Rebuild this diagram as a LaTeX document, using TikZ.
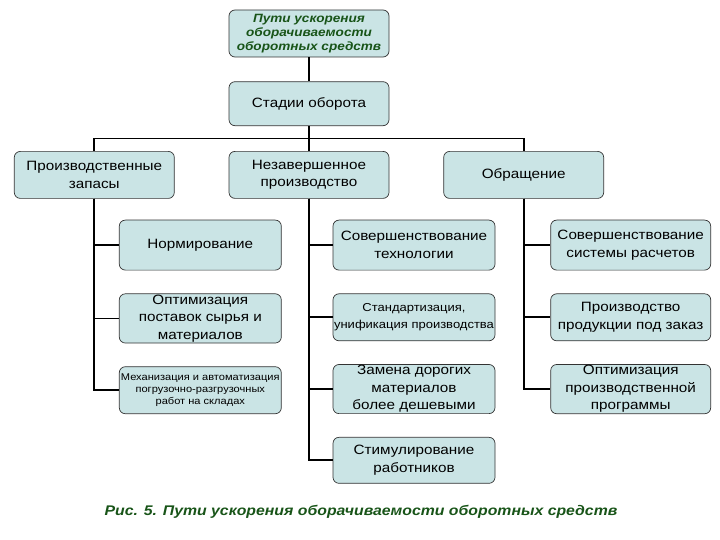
\documentclass[tikz,border=0pt]{standalone}
\usepackage{fontspec}
\setmainfont[FakeStretch=1.13]{Liberation Sans}
\usepackage{tikz}
\usetikzlibrary{positioning, calc}
\definecolor{boxfill}{RGB}{202,228,229}
\definecolor{darkgreen}{RGB}{24,84,24}

\begin{document}
\begin{tikzpicture}[
  node distance=23pt and 54pt,
  box/.style={draw=black!80, rounded corners=6pt, fill=boxfill, align=center,
              font=\fontsize{13.5}{17.5}\selectfont, inner sep=1pt,
              minimum width=160pt, minimum height=47pt, line width=0.7pt},
  sub/.style={box, minimum width=162pt},
  conn/.style={line width=1.8pt, black},
]
\useasboundingbox (0pt,0pt) rectangle (720pt,-540pt);

% Top of the tree
\node[box, font=\fontsize{12}{14}\bfseries\itshape\selectfont, text=darkgreen]
  (title) at (309pt,-33.5pt) {Пути ускорения\\оборачиваемости\\оборотных средств};
\node[box, below=24pt of title, minimum height=44pt] (stadii) {Стадии оборота};

% Stages
\node[box, below=25pt of stadii] (nez) {Незавершенное\\производство};
\node[box, left=54pt of nez] (zapasy) {Производственные\\запасы};
\node[box, right=54pt of nez] (obr) {Обращение};

\coordinate (bus) at ($(stadii.south)!0.5!(nez.north)$);
\draw[conn] (title) -- (stadii);
\draw[conn] (stadii) -- (nez);
\draw[conn] (zapasy.north) |- (bus) -| (obr.north);

% Production stocks
\node[sub, below=21pt of zapasy, xshift=106pt, minimum height=50pt] (norm) {Нормирование};
\node[sub, below=23pt of norm] (postav) {Оптимизация\\поставок сырья и\\материалов};
\node[sub, below=23pt of postav, font=\fontsize{9.8}{12}\selectfont] (mech)
  {Механизация и автоматизация\\погрузочно-разгрузочных\\работ на складах};

% Work in progress
\node[sub, below=21pt of nez, xshift=105pt, minimum height=50pt] (tech) {Совершенствование\\технологии};
\node[sub, below=23pt of tech, font=\fontsize{11.5}{17}\selectfont] (standart)
  {Стандартизация,\\унификация производства};
\node[sub, below=23pt of standart] (zamena) {Замена дорогих\\материалов\\более дешевыми};
\node[sub, below=23pt of zamena, minimum height=46pt] (stimul) {Стимулирование\\работников};

% Circulation
\node[box, below=21pt of obr, xshift=107pt, minimum height=50pt] (rasch) {Совершенствование\\системы расчетов};
\node[box, below=23pt of rasch] (zakaz) {Производство\\продукции под заказ};
\node[box, below=23pt of zakaz] (progr) {Оптимизация\\производственной\\программы};

\foreach \c in {norm, postav, mech}
  \draw[conn] (zapasy.south) |- (\c.west);
\foreach \c in {tech, standart, zamena, stimul}
  \draw[conn] (nez.south) |- (\c.west);
\foreach \c in {rasch, zakaz, progr}
  \draw[conn] (obr.south) |- (\c.west);

% Caption
\node[font=\fontsize{14}{17}\bfseries\itshape\selectfont, text=darkgreen]
  (caption) at (361pt,-512pt) {Рис. 5. Пути ускорения оборачиваемости оборотных средств};
\end{tikzpicture}
\end{document}
